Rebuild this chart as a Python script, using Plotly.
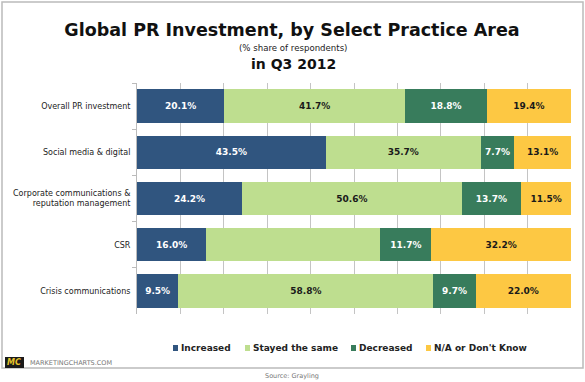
import plotly.graph_objects as go

categories = ["Overall PR investment", "Social media & digital",
              "Corporate communications &<br>reputation management", "CSR",
              "Crisis communications"]
increased = [20.1, 43.5, 24.2, 16.0, 9.5]
stayed = [41.7, 35.7, 50.6, 40.1, 58.8]
decreased = [18.8, 7.7, 13.7, 11.7, 9.7]
na_dont_know = [19.4, 13.1, 11.5, 32.2, 22.0]
stayed_shown = [True, True, True, False, True]

series_names = ["Increased", "Stayed the same", "Decreased", "N/A or Don't Know"]
series_colors = ["#30557F", "#BEDE8F", "#387C5C", "#FDC843"]
text_colors = ["white", "#1a1a1a", "white", "#1a1a1a"]
series_values = [increased, stayed, decreased, na_dont_know]
series_shown = [[True] * 5, stayed_shown, [True] * 5, [True] * 5]

FONT = "DejaVu Sans, Verdana, sans-serif"
W, H = 585, 382
L, R, T, B = 137, 14, 83, 68
PW, PH = W - L - R, H - T - B


def px(x):
    return (x - L) / PW


def py(y):
    return (H - B - y) / PH


fig = go.Figure()
for name, vals, color, tcolor, shown in zip(series_names, series_values, series_colors,
                                            text_colors, series_shown):
    fig.add_trace(go.Bar(
        y=categories, x=vals, name=name, orientation="h",
        marker=dict(color=color, line=dict(width=0)),
        text=[f"<b>{v:.1f}%</b>" if s else "" for v, s in zip(vals, shown)],
        textposition="inside", insidetextanchor="middle",
        textfont=dict(family=FONT, size=9, color=tcolor),
        constraintext="none", hoverinfo="skip", showlegend=False,
    ))

fig.update_layout(
    barmode="stack", bargap=0.28,
    width=W, height=H,
    margin=dict(l=L, r=R, t=T, b=B, autoexpand=False),
    paper_bgcolor="white", plot_bgcolor="white",
    font=dict(family=FONT, size=9, color="#222"),
    showlegend=False,
    xaxis=dict(range=[0, 100], dtick=10, showgrid=True, gridcolor="#C4C4C4", gridwidth=1,
               showticklabels=False, zeroline=False, showline=False, ticks="",
               automargin=False),
    yaxis=dict(autorange="reversed", showline=True, linecolor="#BBBBBB", linewidth=1,
               ticks="outside", tickson="boundaries", ticklen=4, tickcolor="#BBBBBB",
               ticklabelstandoff=4,
               tickfont=dict(family=FONT, size=8, color="#222"), showgrid=False,
               automargin=False),
    title=dict(text="<b>Global PR Investment, by Select Practice Area</b>",
               x=px(292), xref="paper", xanchor="center", y=1 - 29.5 / H, yanchor="middle",
               font=dict(family=FONT, size=17.5, color="#111")),
)

fig.add_annotation(text="(% share of respondents)", xref="paper", yref="paper",
                   x=px(293), y=py(48), xanchor="center", yanchor="middle", showarrow=False,
                   font=dict(family=FONT, size=8.6, color="#222"))
fig.add_annotation(text="<b>in Q3 2012</b>", xref="paper", yref="paper",
                   x=px(293), y=py(64), xanchor="center", yanchor="middle", showarrow=False,
                   font=dict(family=FONT, size=14, color="#111"))

# legend (custom, to match compact spacing)
legend_marker_x = [173, 245, 351, 426]
legend_y = 348
for name, color, mx in zip(series_names, series_colors, legend_marker_x):
    fig.add_shape(type="rect", xref="paper", yref="paper",
                  x0=px(mx), x1=px(mx + 5), y0=py(legend_y + 3), y1=py(legend_y - 3),
                  line=dict(width=0), fillcolor=color)
    fig.add_annotation(text=f"<b>{name}</b>", xref="paper", yref="paper",
                       x=px(mx + 6), y=py(legend_y), xanchor="left", yanchor="middle",
                       showarrow=False, font=dict(family=FONT, size=9, color="#222"))

# outer frame
fig.add_shape(type="rect", xref="paper", yref="paper",
              x0=px(2), x1=px(583), y0=py(368), y1=py(2),
              line=dict(color="#BBBBBB", width=1.5), fillcolor="rgba(0,0,0,0)", layer="below")
# MC logo
fig.add_shape(type="rect", xref="paper", yref="paper",
              x0=px(5), x1=px(24), y0=py(368), y1=py(357),
              line=dict(width=0), fillcolor="#1a1a1a")
fig.add_annotation(text="<b><i>MC</i></b>", xref="paper", yref="paper",
                   x=px(14.5), y=py(362.5), xanchor="center", yanchor="middle", showarrow=False,
                   font=dict(family=FONT, size=8, color="#E8C42A"))
fig.add_annotation(text="MARKETINGCHARTS.COM", xref="paper", yref="paper",
                   x=px(28), y=py(362.5), xanchor="left", yanchor="middle", showarrow=False,
                   font=dict(family=FONT, size=6.5, color="#777"))
fig.add_annotation(text="Source: Grayling", xref="paper", yref="paper",
                   x=px(292), y=py(376), xanchor="center", yanchor="middle", showarrow=False,
                   font=dict(family=FONT, size=6.5, color="#777"))

fig.write_html("out.html", config={"displayModeBar": False},
               post_script="document.body.style.margin='0';document.body.style.overflow='hidden';")
